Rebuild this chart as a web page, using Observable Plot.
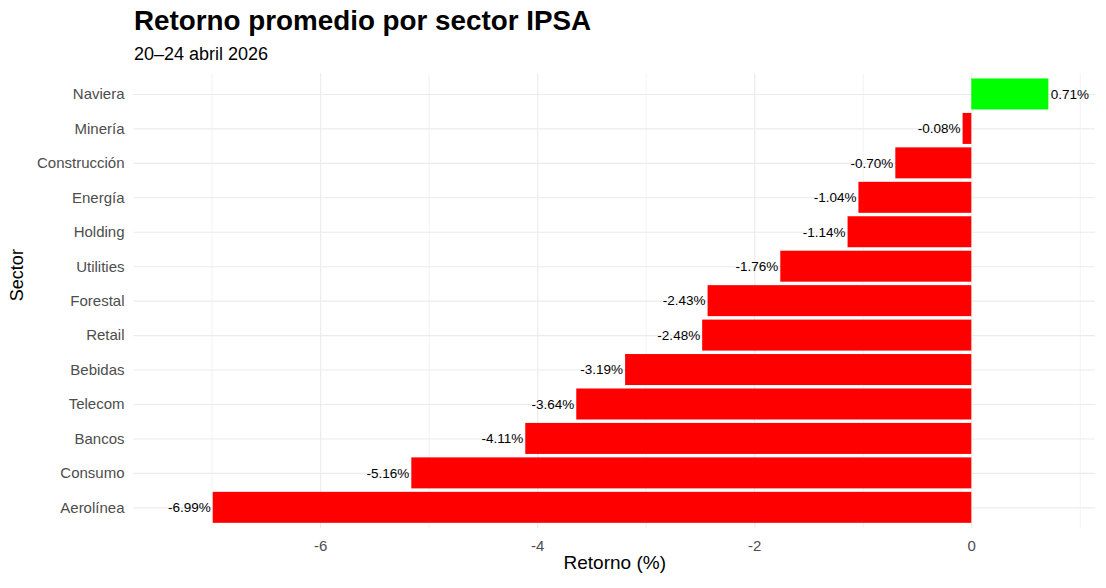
<!DOCTYPE html>
<html>
<head>
<meta charset="utf-8">
<script src="https://cdn.jsdelivr.net/npm/d3@7"></script>
<script src="https://cdn.jsdelivr.net/npm/@observablehq/plot@0.6"></script>
<style>
  html, body { margin: 0; padding: 0; background: #fff; }
  body { width: 1106px; height: 588px; position: relative; overflow: hidden; font-family: "Liberation Sans", Arial, sans-serif; }
  #title { position: absolute; left: 134px; top: 7.3px; font-size: 27.8px; line-height: 28px; font-weight: bold; color: #000; white-space: nowrap; }
  #subtitle { position: absolute; left: 134px; top: 44.8px; font-size: 18px; line-height: 18px; color: #000; white-space: nowrap; }
  #chart { position: absolute; left: 0; top: 66px; }
</style>
</head>
<body>
<div id="title">Retorno promedio por sector IPSA</div>
<div id="subtitle">20–24 abril 2026</div>
<div id="chart"></div>
<script>
const sectors = ["Naviera","Minería","Construcción","Energía","Holding","Utilities","Forestal","Retail","Bebidas","Telecom","Bancos","Consumo","Aerolínea"];
const returns = [0.71,-0.08,-0.70,-1.04,-1.14,-1.76,-2.43,-2.48,-3.19,-3.64,-4.11,-5.16,-6.99];
const xTicks = [-6,-4,-2,0];
const xMinorTicks = [-7,-5,-3,-1,1];
const xLabel = "Retorno (%)";
const yLabel = "Sector";

const data = sectors.map((s, i) => ({sector: s, value: returns[i]}));
const pos = data.filter(d => d.value >= 0);
const neg = data.filter(d => d.value < 0);
const fmt = d => d.value.toFixed(2) + "%";

const chart = Plot.plot({
  width: 1106,
  height: 522,
  marginTop: 7.3,
  marginBottom: 60,
  marginLeft: 133.5,
  marginRight: 11,
  style: { fontFamily: "'Liberation Sans', Arial, sans-serif", fontSize: "15px", background: "white", color: "#000" },
  x: { domain: [-7.72, 1.14], label: null },
  y: { domain: sectors, paddingInner: 0.1, paddingOuter: 0.15, round: false, label: null },
  color: { type: "identity" },
  marks: [
    Plot.ruleX(xMinorTicks, { stroke: "#ebebeb", strokeWidth: 0.6 }),
    Plot.ruleX(xTicks, { stroke: "#ebebeb", strokeWidth: 1.1 }),
    Plot.gridY({ stroke: "#ebebeb", strokeOpacity: 1, strokeWidth: 1.1 }),
    Plot.barX(data, { x: "value", y: "sector", fill: d => d.value >= 0 ? "#00ff00" : "#ff0000" }),
    Plot.text(pos, { x: "value", y: "sector", text: fmt, textAnchor: "start", dx: 2, fontSize: 13.5, fill: "#000" }),
    Plot.text(neg, { x: "value", y: "sector", text: fmt, textAnchor: "end", dx: -2.5, fontSize: 13.5, fill: "#000" }),
    Plot.axisX({ ticks: xTicks, tickFormat: d => String(d), tickSize: 0, tickPadding: 12, fontSize: 15, fill: "#4d4d4d", label: null }),
    Plot.axisY({ tickSize: 0, tickPadding: 9.5, fontSize: 15, fill: "#4d4d4d", label: null }),
    Plot.text([xLabel], { frameAnchor: "bottom", text: d => d, dy: 40.9, fontSize: 19, fill: "#000" }),
    Plot.text([yLabel], { frameAnchor: "left", text: d => d, rotate: -90, dx: -116.4, fontSize: 18, fill: "#000" })
  ]
});
document.getElementById("chart").appendChild(chart);
</script>
</body>
</html>
